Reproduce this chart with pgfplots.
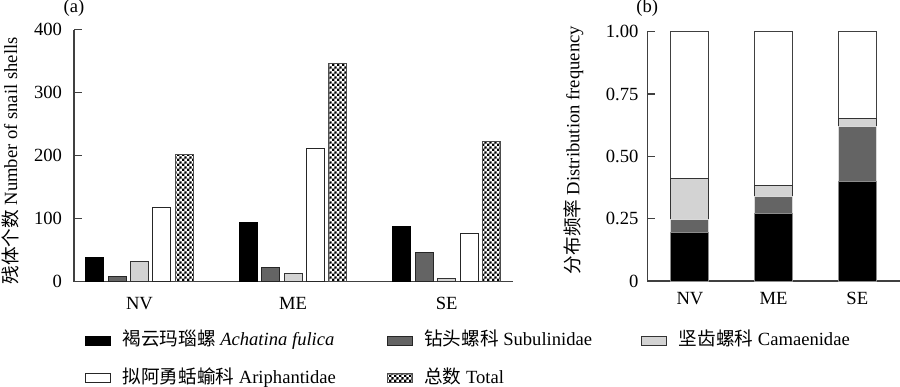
\documentclass[border=0pt]{standalone}
\usepackage{fontspec}
\setmainfont{Liberation Serif}
\newfontfamily\cjk{Noto Sans CJK SC}
\usepackage{pgfplots}
\pgfplotsset{compat=1.18}
\usetikzlibrary{patterns.meta}
\pgfdeclarepattern{
  name=mychecker, type=uncolored,
  bottom left={\pgfpoint{0pt}{0pt}}, top right={\pgfpoint{2.4pt}{2.4pt}},
  tile size={\pgfpoint{2.4pt}{2.4pt}},
  code={
    \pgfpathrectangle{\pgfpoint{0pt}{0pt}}{\pgfpoint{1.2pt}{1.2pt}}
    \pgfpathrectangle{\pgfpoint{1.2pt}{1.2pt}}{\pgfpoint{1.2pt}{1.2pt}}
    \pgfusepath{fill}
  }
}
\definecolor{dg}{RGB}{100,100,100}
\definecolor{lg}{RGB}{211,211,211}
\definecolor{ax}{RGB}{64,64,64}
\pgfplotsset{
  leg/.style={legend image code/.code={\draw[##1,line width=0.5pt] (0pt,-2.1pt) rectangle (12.5pt,2.1pt);}},
}
\begin{document}
\begin{tikzpicture}[font=\fontsize{9.3}{11}\selectfont]
\useasboundingbox (0,0) rectangle (450pt,193pt);
\begin{axis}[
  at={(37pt,52.15pt)}, anchor=south west, scale only axis,
  width=219.5pt, height=126.1pt,
  xmin=-0.426, xmax=2.432, ymin=0, ymax=400,
  axis x line*=bottom, axis y line*=left,
  axis line style={ax, line width=0.6pt},
  xtick={0,1,2}, xticklabels={NV,ME,SE},
  x tick style={draw=none},
  xticklabel style={yshift=-0.6pt},
  ytick={0,100,200,300,400}, yticklabels={0,100,200,300,400},
  yticklabel style={xshift=-2.5pt},
  tick align=inside, major tick length=3.8pt,
  y tick style={ax, line width=0.6pt},
  ybar=2.2pt, bar width=9pt,
  ylabel={{\cjk 残体个数} Number of snail shells},
  ylabel style={at={(axis description cs:-0.1458,0.479)}, anchor=center},
  title={(a)},
  title style={at={(axis description cs:0,1)}, anchor=center, yshift=4.5pt},
  legend columns=3,
  legend cell align=left,
  legend style={at={(axis description cs:0.0251,-0.1994)}, anchor=north west,
    draw=none, fill=none, inner sep=0pt, outer sep=0pt,
    nodes={inner sep=0pt, text height=7pt, text depth=2pt},
    column sep=0pt, row sep=9.6pt,
    /tikz/every odd column/.style={column sep=5.8pt}},
]
\addplot[leg, fill=black, draw=black, line width=0.5pt] coordinates {(0,38) (1,94) (2,88)};
\addlegendentry{\makebox[132pt][l]{{\cjk 褐云玛瑙螺} \textit{Achatina fulica}}}
\addplot[leg, fill=dg, draw=black!85, line width=0.5pt] coordinates {(0,9) (1,22) (2,47)};
\addlegendentry{\makebox[108.5pt][l]{{\cjk 钻头螺科} Subulinidae}}
\addplot[leg, fill=lg, draw=black!80, line width=0.5pt] coordinates {(0,32) (1,13) (2,5)};
\addlegendentry{{\cjk 坚齿螺科} Camaenidae}
\addplot[leg, fill=white, draw=black!85, line width=0.5pt] coordinates {(0,117) (1,212) (2,77)};
\addlegendentry{{\cjk 拟阿勇蛞蝓科} Ariphantidae}
\addplot[leg, pattern={mychecker}, pattern color=black, draw=black!70, line width=0.5pt] coordinates {(0,201) (1,346) (2,222)};
\addlegendentry{{\cjk 总数} Total}
\end{axis}

\begin{axis}[
  at={(323.65pt,52.5pt)}, anchor=south west, scale only axis,
  width=126.35pt, height=124.65pt,
  xmin=-0.51, xmax=2.51, ymin=0, ymax=1,
  axis x line*=bottom, axis y line*=left,
  axis line style={ax, line width=0.6pt},
  xtick={0,1,2}, xticklabels={NV,ME,SE},
  x tick style={draw=none},
  xticklabel style={yshift=-2.2pt},
  ytick={0,0.25,0.5,0.75,1}, yticklabels={0,0.25,0.50,0.75,1.00},
  yticklabel style={xshift=-0.9pt},
  tick align=inside, major tick length=3.8pt,
  y tick style={ax, line width=0.6pt},
  ybar stacked, bar width=19pt,
  ylabel={{\cjk 分布频率} Distribution frequency},
  ylabel style={at={(axis description cs:-0.292,0.525)}, anchor=center},
  title={(b)},
  title style={at={(axis description cs:0,1)}, anchor=center, yshift=5.6pt},
]
\addplot[fill=black, draw=black!45, line width=0.5pt] coordinates {(0,0.195) (1,0.27) (2,0.40)};
\addplot[fill=dg, draw=white!85!black, line width=0.5pt] coordinates {(0,0.05) (1,0.07) (2,0.218)};
\addplot[fill=lg, draw=black!80, line width=0.5pt] coordinates {(0,0.165) (1,0.044) (2,0.032)};
\addplot[fill=white, draw=black!75, line width=0.5pt] coordinates {(0,0.59) (1,0.616) (2,0.35)};
\end{axis}
\end{tikzpicture}
\end{document}
